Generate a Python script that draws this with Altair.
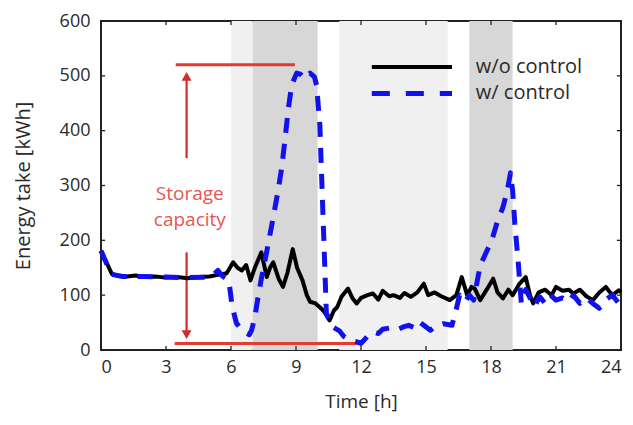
import altair as alt
import pandas as pd

# ---- data ----
t_black = [0, 0.25, 0.5, 0.8, 1.2, 1.6, 2.0, 2.5, 3.0, 3.5, 4.0, 4.5, 5.0, 5.4, 5.8,
           6.1, 6.3, 6.5, 6.7, 6.9, 7.1, 7.4, 7.65, 7.8, 7.95, 8.2, 8.4, 8.6, 8.85, 9.05,
           9.3, 9.5, 9.65, 9.9, 10.1, 10.3, 10.55, 10.75, 10.9, 11.1, 11.4, 11.6, 11.8, 12.0,
           12.3, 12.55, 12.8, 13.0, 13.3, 13.5, 13.8, 14.0, 14.3, 14.6, 14.9, 15.1, 15.4, 15.7,
           16.1, 16.4, 16.65, 16.9, 17.1, 17.25, 17.5, 17.8, 18.1, 18.3, 18.55, 18.8, 19.0,
           19.3, 19.6, 19.8, 19.95, 20.2, 20.5, 20.8, 21.0, 21.3, 21.6, 21.8, 22.1, 22.4, 22.7,
           23.0, 23.3, 23.6, 23.9, 24.0]
v_black = [181, 160, 139, 135, 134, 136, 133, 134, 132, 133, 131, 133, 134, 137, 140,
           160, 150, 145, 155, 127, 150, 178, 133, 150, 160, 130, 115, 140, 184, 150,
           127, 100, 88, 85, 78, 70, 54, 72, 78, 97, 112, 95, 85, 95,
           100, 103, 92, 108, 98, 100, 95, 104, 97, 105, 121, 100, 105, 98,
           91, 100, 133, 100, 115, 112, 91, 110, 130, 105, 94, 110, 100,
           120, 133, 100, 85, 105, 110, 100, 115, 108, 110, 103, 110, 98, 91,
           105, 115, 100, 109, 105]

t_blue = [0, 0.25, 0.5, 1, 2, 3, 4, 5, 5.2, 5.4, 5.6, 5.9, 6.05, 6.25, 6.5, 6.7, 6.85,
          6.95, 7.1, 7.25, 7.4, 7.57, 7.95, 8.17, 8.34, 8.5, 8.65, 8.8, 9.03, 9.2, 9.4,
          9.65, 9.85, 9.95, 10.1, 10.18, 10.26, 10.34, 10.4, 10.7, 11.0, 11.2, 11.5, 11.8,
          12.0, 12.3, 12.55, 12.8, 13.0, 13.3, 13.6, 13.95, 14.2, 14.5, 14.7, 14.9, 15.2,
          15.5, 15.8, 16.2, 16.4, 16.55, 16.8, 17.0, 17.2, 17.5, 17.8, 18.03, 18.3, 18.55,
          18.75, 18.9, 19.0, 19.1, 19.25, 19.4, 19.6, 19.8, 20.0, 20.25, 20.5, 20.75, 21.0,
          21.3, 21.6, 21.8, 22.1, 22.4, 22.7, 23.0, 23.3, 23.6, 24.0]
v_blue = [181, 158, 138, 134, 134, 133, 132, 133, 138, 145, 135, 127, 80, 49, 36, 31, 28,
          36, 60, 97, 130, 163, 242, 290, 332, 387, 441, 483, 505, 503, 495,
          505, 498, 483, 411, 320, 230, 139, 67, 42, 35, 25, 18, 15,
          12, 25, 33, 30, 38, 40, 36, 42, 45, 40, 51, 45, 36,
          45, 48, 45, 75, 100, 88, 100, 91, 154, 180, 199, 235, 260,
          290, 323, 290, 230, 163, 85, 110, 95, 80, 97, 85, 100, 91,
          95, 88, 100, 85, 95, 85, 76, 92, 100, 80]

shade_start = [6, 11, 7, 17]
shade_end = [7, 16, 10, 19]
shade_kind = ["light", "light", "dark", "dark"]

cap_top = 520
cap_bottom = 12
cap_top_span = [3.45, 8.95]
cap_bottom_span = [3.4, 12.0]
arrow_x = 3.95
arrow_up = [350, 505]
arrow_down = [178, 22]
note_lines = ["Storage", "capacity"]
note_y = [285, 237]
note_x = 4.1

legend_labels = ["w/o control", "w/ control"]
legend_y = [516, 468]
legend_x = [12.5, 16.2]
legend_text_x = 17.3

x_ticks = [0, 3, 6, 9, 12, 15, 18, 21, 24]
y_ticks = [0, 100, 200, 300, 400, 500, 600]

FONT = "Open Sans"
RED = "#e53a32"
TXT = "#2a2a2a"

xs = alt.Scale(domain=[0, 24], nice=False, zero=False)
ys = alt.Scale(domain=[0, 600], nice=False)

df_black = pd.DataFrame({"t": t_black, "v": v_black})
df_blue = pd.DataFrame({"t": t_blue, "v": v_blue})
df_shade = pd.DataFrame({"a": shade_start, "b": shade_end, "k": shade_kind,
                         "lo": [0] * 4, "hi": [600] * 4})

shade = alt.Chart(df_shade).mark_rect().encode(
    x=alt.X("a:Q", scale=xs, title="Time [h]",
            axis=alt.Axis(values=x_ticks, format="d")),
    x2="b:Q",
    y=alt.Y("lo:Q", scale=ys, title="Energy take [kWh]",
            axis=alt.Axis(values=y_ticks, format="d")),
    y2="hi:Q",
    color=alt.Color("k:N", scale=alt.Scale(domain=["light", "dark"],
                                           range=["#f0f0f0", "#d7d7d7"]), legend=None),
)

# inward ticks on all four sides
tick_len_v = 7.5
tick_len_h = 0.19
df_xt = pd.DataFrame({"t": x_ticks})
df_yt = pd.DataFrame({"v": y_ticks})
xt_bot = alt.Chart(df_xt).mark_rule(color="#222", strokeWidth=1.3).encode(
    x=alt.X("t:Q", scale=xs), y=alt.datum(0), y2=alt.datum(tick_len_v))
xt_top = alt.Chart(df_xt).mark_rule(color="#222", strokeWidth=1.3).encode(
    x=alt.X("t:Q", scale=xs), y=alt.datum(600), y2=alt.datum(600 - tick_len_v))
yt_l = alt.Chart(df_yt).mark_rule(color="#222", strokeWidth=1.3).encode(
    y=alt.Y("v:Q", scale=ys), x=alt.datum(0), x2=alt.datum(tick_len_h))
yt_r = alt.Chart(df_yt).mark_rule(color="#222", strokeWidth=1.3).encode(
    y=alt.Y("v:Q", scale=ys), x=alt.datum(24), x2=alt.datum(24 - tick_len_h))

# red annotations
df_hl = pd.DataFrame({"x1": [cap_top_span[0], cap_bottom_span[0]],
                      "x2": [cap_top_span[1], cap_bottom_span[1]],
                      "y": [cap_top, cap_bottom]})
hlines = alt.Chart(df_hl).mark_rule(color=RED, strokeWidth=3).encode(
    x=alt.X("x1:Q", scale=xs), x2="x2:Q", y=alt.Y("y:Q", scale=ys))
df_sh = pd.DataFrame({"x": [arrow_x, arrow_x], "y1": [arrow_up[0], arrow_down[0]],
                      "y2": [arrow_up[1] - 8, arrow_down[1] + 8]})
shafts = alt.Chart(df_sh).mark_rule(color="#d42a2a", strokeWidth=2.2).encode(
    x=alt.X("x:Q", scale=xs), y=alt.Y("y1:Q", scale=ys), y2="y2:Q")
df_head = pd.DataFrame({"x": [arrow_x, arrow_x], "y": [arrow_up[1] - 6, arrow_down[1] + 6],
                        "s": ["triangle-up", "triangle-down"]})
heads = alt.Chart(df_head).mark_point(filled=True, color="#d42a2a", size=100, opacity=1).encode(
    x=alt.X("x:Q", scale=xs), y=alt.Y("y:Q", scale=ys),
    shape=alt.Shape("s:N", scale=None))
df_note = pd.DataFrame({"x": [note_x] * 2, "y": note_y, "txt": note_lines})
note = alt.Chart(df_note).mark_text(color="#e85550", font=FONT, fontSize=19,
                                    align="center", baseline="middle").encode(
    x=alt.X("x:Q", scale=xs), y=alt.Y("y:Q", scale=ys), text="txt:N")

line_black = alt.Chart(df_black).mark_line(color="black", strokeWidth=4,
                                           strokeJoin="round").encode(
    x=alt.X("t:Q", scale=xs), y=alt.Y("v:Q", scale=ys))
line_blue = alt.Chart(df_blue).mark_line(color="#1111ee", strokeWidth=5,
                                         strokeDash=[15, 11], strokeJoin="round").encode(
    x=alt.X("t:Q", scale=xs), y=alt.Y("v:Q", scale=ys))

# legend drawn from data
df_leg = pd.DataFrame({"x1": [legend_x[0]] * 2, "x2": [legend_x[1]] * 2,
                       "y": legend_y, "lab": legend_labels})
leg_black = alt.Chart(df_leg.iloc[[0]]).mark_rule(color="black", strokeWidth=4).encode(
    x=alt.X("x1:Q", scale=xs), x2="x2:Q", y=alt.Y("y:Q", scale=ys))
leg_blue = alt.Chart(df_leg.iloc[[1]]).mark_rule(color="#1111ee", strokeWidth=5,
                                                 strokeDash=[18, 16]).encode(
    x=alt.X("x1:Q", scale=xs), x2="x2:Q", y=alt.Y("y:Q", scale=ys))
df_legt = pd.DataFrame({"x": [legend_text_x] * 2, "y": legend_y, "lab": legend_labels})
leg_text = alt.Chart(df_legt).mark_text(font=FONT, fontSize=20, color=TXT,
                                        align="left", baseline="middle").encode(
    x=alt.X("x:Q", scale=xs), y=alt.Y("y:Q", scale=ys), text="lab:N")

chart = alt.layer(
    shade, xt_bot, xt_top, yt_l, yt_r, hlines, shafts, heads, note,
    line_black, line_blue, leg_black, leg_blue, leg_text
).properties(
    width=520, height=329,
    autosize=alt.AutoSizeParams(type="none"),
    padding={"left": 93, "top": 13, "right": 4, "bottom": 67},
).configure_view(
    stroke="#222", strokeWidth=2
).configure_axis(
    grid=False, ticks=False, domain=False,
    labelFont=FONT, labelFontSize=18, labelColor=TXT,
    titleFont=FONT, titleFontSize=19, titleColor=TXT, titleFontWeight="normal",
).configure_axisX(
    labelPadding=8, titlePadding=16
).configure_axisY(
    labelPadding=11, titlePadding=26, titleFontSize=20
)

chart.save("out.html", embed_options={"renderer": "svg", "actions": False})
